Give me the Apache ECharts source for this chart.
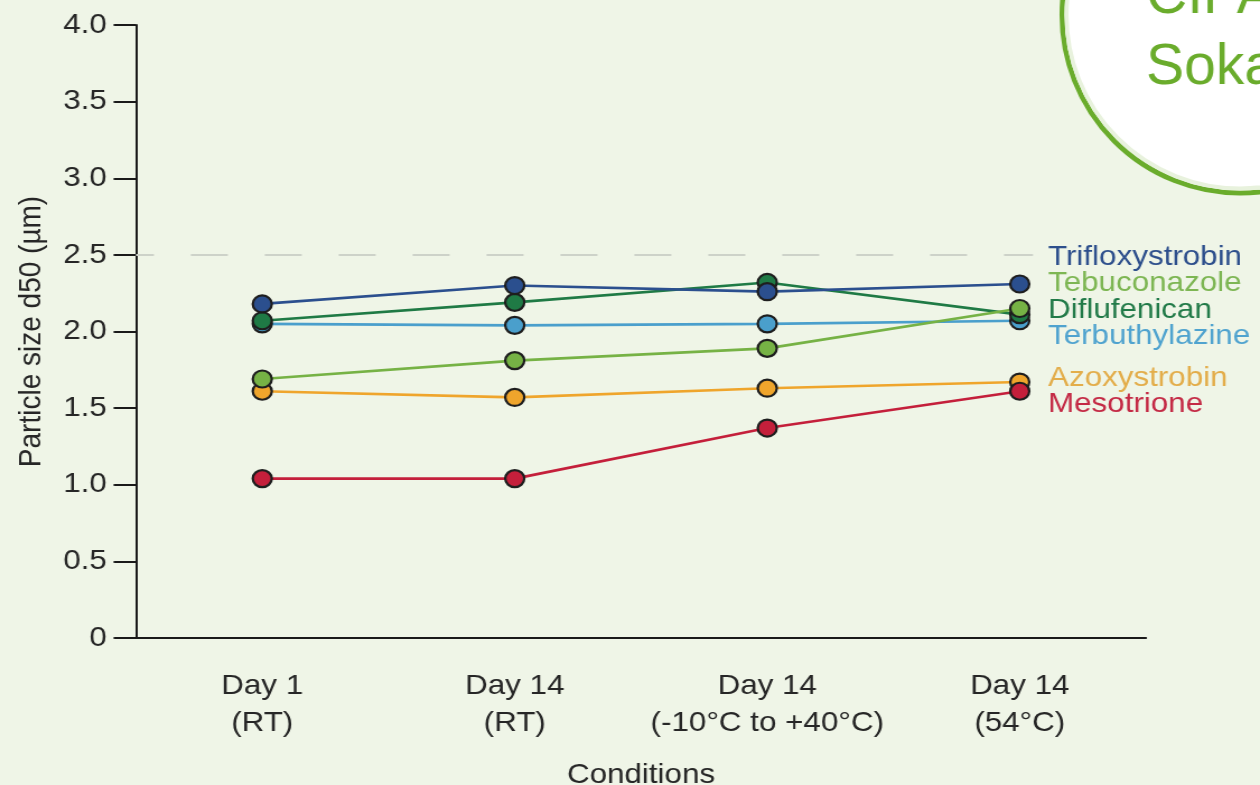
<!DOCTYPE html>
<html><head><meta charset="utf-8">
<script src="https://cdn.jsdelivr.net/npm/echarts@6/dist/echarts.min.js"></script>
<style>
html,body{margin:0;padding:0;background:#eff5e7;overflow:hidden;}
#wrap{width:1260px;height:785px;overflow:hidden;position:relative;}
#c{width:1125px;height:785px;transform:scaleX(1.12);transform-origin:0 0;}
</style>
</head><body><div id="wrap"><div id="c"></div></div>
<script>
const categories = ['Day 1\n(RT)', 'Day 14\n(RT)', 'Day 14\n(-10°C to +40°C)', 'Day 14\n(54°C)'];
const seriesNames = ['Terbuthylazine', 'Diflufenican', 'Trifloxystrobin', 'Azoxystrobin', 'Tebuconazole', 'Mesotrione'];
const terbuthylazine = [2.05, 2.04, 2.05, 2.07];
const diflufenican = [2.07, 2.19, 2.32, 2.11];
const trifloxystrobin = [2.18, 2.30, 2.26, 2.31];
const azoxystrobin = [1.61, 1.57, 1.63, 1.67];
const tebuconazole = [1.69, 1.81, 1.89, 2.15];
const mesotrione = [1.04, 1.04, 1.37, 1.61];
const yTicks = [0, 0.5, 1.0, 1.5, 2.0, 2.5, 3.0, 3.5, 4.0];
const referenceLevel = 2.5;
const legendOrder = ['Trifloxystrobin', 'Tebuconazole', 'Diflufenican', 'Terbuthylazine', 'Azoxystrobin', 'Mesotrione'];
const lineColors = ['#4a9fcc', '#1f7a45', '#2b4f8e', '#efa52c', '#76b245', '#c41f3b'];
const labelColors = {'Trifloxystrobin':'#2d4f8c','Tebuconazole':'#7db653','Diflufenican':'#217a48','Terbuthylazine':'#4fa3cf','Azoxystrobin':'#e3ad4a','Mesotrione':'#c42a45'};
const values = [terbuthylazine, diflufenican, trifloxystrobin, azoxystrobin, tebuconazole, mesotrione];

const SX = 1.12; // horizontal stretch of the page
const font = '"Liberation Sans", Arial, sans-serif';
const labelYpx = [257, 283, 310, 336, 378, 404];

const chart = echarts.init(document.getElementById('c'));
const series = seriesNames.map((n, i) => ({
  name: n, type: 'line', data: values[i], symbol: 'circle', symbolSize: 17,
  lineStyle: {color: lineColors[i], width: 2.6},
  itemStyle: {color: lineColors[i], borderColor: '#1e1e1e', borderWidth: 2.2},
  z: 3 + i
}));
series[0].markLine = {silent: true, symbol: 'none', label: {show: false},
  lineStyle: {color: '#cdd2c9', type: [33, 33], dashOffset: 17, width: 2},
  data: [[{x: 136 / SX, yAxis: referenceLevel}, {x: 1033 / SX, yAxis: referenceLevel}]]};

const graphics = [
  {type: 'circle', x: 1240 / SX, y: 15, scaleX: 1 / SX, shape: {cx: 0, cy: 0, r: 178}, style: {fill: '#ffffff', stroke: '#6aac2c', lineWidth: 5}, z: 10},
  {type: 'circle', x: 1240 / SX, y: 15, scaleX: 1 / SX, shape: {cx: 0, cy: 0, r: 173.5}, style: {fill: 'none', stroke: '#e8f2dd', lineWidth: 4}, z: 11},
  {type: 'text', x: 1146 / SX, y: -3, scaleX: 1 / SX, style: {text: 'CIPAC', fill: '#6aac2c', font: '57px ' + font, verticalAlign: 'middle'}, z: 12},
  {type: 'text', x: 1146 / SX, y: 68, scaleX: 1 / SX, style: {text: 'Sokalan', fill: '#6aac2c', font: '57px ' + font, verticalAlign: 'middle'}, z: 12}
];
legendOrder.forEach((n, i) => {
  graphics.push({type: 'text', x: 1048 / SX, y: labelYpx[i], style: {text: n, fill: labelColors[n], font: '28px ' + font, verticalAlign: 'middle'}, z: 5});
});

chart.setOption({
  backgroundColor: '#eff5e7',
  animation: false,
  grid: {left: 136 / SX, right: 1125 - 1146 / SX, top: 25, bottom: 147, containLabel: false, outerBoundsMode: 'none'},
  xAxis: {
    type: 'category', data: categories, boundaryGap: true,
    name: 'Conditions', nameLocation: 'middle', nameGap: 123,
    nameTextStyle: {fontSize: 28, color: '#262626', fontFamily: font},
    axisLine: {lineStyle: {color: '#1a1a1a', width: 2}},
    axisTick: {alignWithLabel: true, length: 18, lineStyle: {color: '#1a1a1a', width: 2}},
    axisLabel: {interval: 0, fontSize: 28, color: '#262626', fontFamily: font, margin: 30, lineHeight: 37, hideOverlap: false}
  },
  yAxis: {
    type: 'value', min: 0, max: 4, interval: 0.5,
    name: 'Particle size d50 (µm)', nameLocation: 'middle', nameGap: 79,
    nameTextStyle: {fontSize: 28, color: '#262626', fontFamily: font},
    axisLine: {show: true, lineStyle: {color: '#1a1a1a', width: 2}},
    axisTick: {show: true, length: 20, lineStyle: {color: '#1a1a1a', width: 2}},
    splitLine: {show: false},
    axisLabel: {fontSize: 28, color: '#262626', fontFamily: font, margin: 26,
      formatter: v => { const t = yTicks.find(x => Math.abs(x - v) < 1e-9); return t === 0 ? '0' : t.toFixed(1); }}
  },
  series: series,
  graphic: graphics
});
</script></body></html>
